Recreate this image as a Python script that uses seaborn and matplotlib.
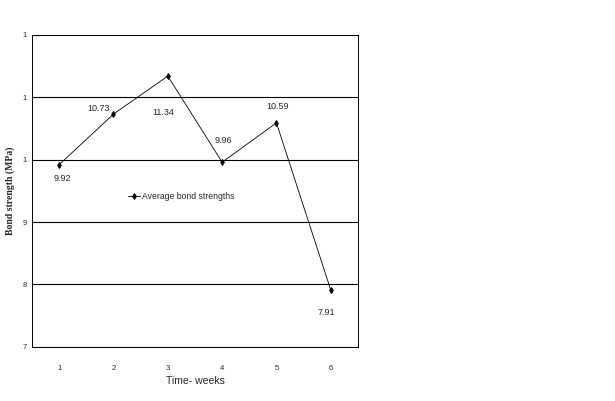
import pandas as pd
import numpy as np
from matplotlib import pyplot as plt
import seaborn as sns

# datos
weeks = ['1', '2', '3', '4', '5', '6']
bond = [9.92, 10.73, 11.34, 9.96, 10.59, 7.91]
y_ticks = [7, 8, 9, 10, 11, 12]
y_labels = ['7', '8', '9', '1', '1', '1']  # asi aparecen (recortadas) en el original
# desplazamiento de cada etiqueta (pixeles)
label_off = [(3, -14), (-15, 6), (-5, -36), (1, 22), (1, 16), (-5, -22)]

df = pd.DataFrame({'pos': np.arange(len(weeks)), 'bond': bond})

sns.set_style('white')
plt.rcParams['font.family'] = ['Liberation Sans', 'DejaVu Sans']

fig = plt.figure(figsize=(6.15, 4.01), dpi=100)
ax = fig.add_axes([0.052, 0.135, 0.530, 0.778])

sns.lineplot(data=df, x='pos', y='bond', ax=ax, color='black', linewidth=0.6,
             marker='d', markersize=3, markeredgecolor='black',
             label='Average bond strengths')

for i, v in enumerate(bond):
    ax.annotate(f'{v:.2f}', (i, v), xytext=label_off[i], textcoords='offset pixels',
                ha='center', va='center', fontsize=6.5)

ax.set_xlim(-0.5, len(weeks) - 0.5)
ax.set_ylim(7, 12)
ax.set_yticks(y_ticks)
ax.set_yticklabels(y_labels, fontsize=5.5)
ax.set_xticks(np.arange(len(weeks)))
ax.set_xticklabels(weeks, fontsize=5.5)
ax.set_xticks(np.arange(len(weeks) + 1) - 0.5, minor=True)
ax.tick_params(axis='x', which='major', length=0, pad=13)
ax.tick_params(axis='x', which='minor', length=3, width=0.7, direction='out')
ax.tick_params(axis='y', length=3, width=0.7, direction='out', pad=1)
ax.grid(axis='y', color='black', linewidth=0.8)
ax.grid(axis='x', visible=False)
for s in ax.spines.values():
    s.set_color('black')
    s.set_linewidth(0.7)

ax.set_xlabel('Time- weeks', fontsize=7.5, labelpad=3)
ax.set_ylabel('Bond strength (MPa)', fontsize=7, fontweight='bold',
              family='Liberation Serif', labelpad=5)

ax.legend(loc='upper left', bbox_to_anchor=(0.27, 0.52), frameon=False,
          fontsize=6.2, handlelength=1.4, handletextpad=0.3)

plt.savefig('out.png', dpi=100)
